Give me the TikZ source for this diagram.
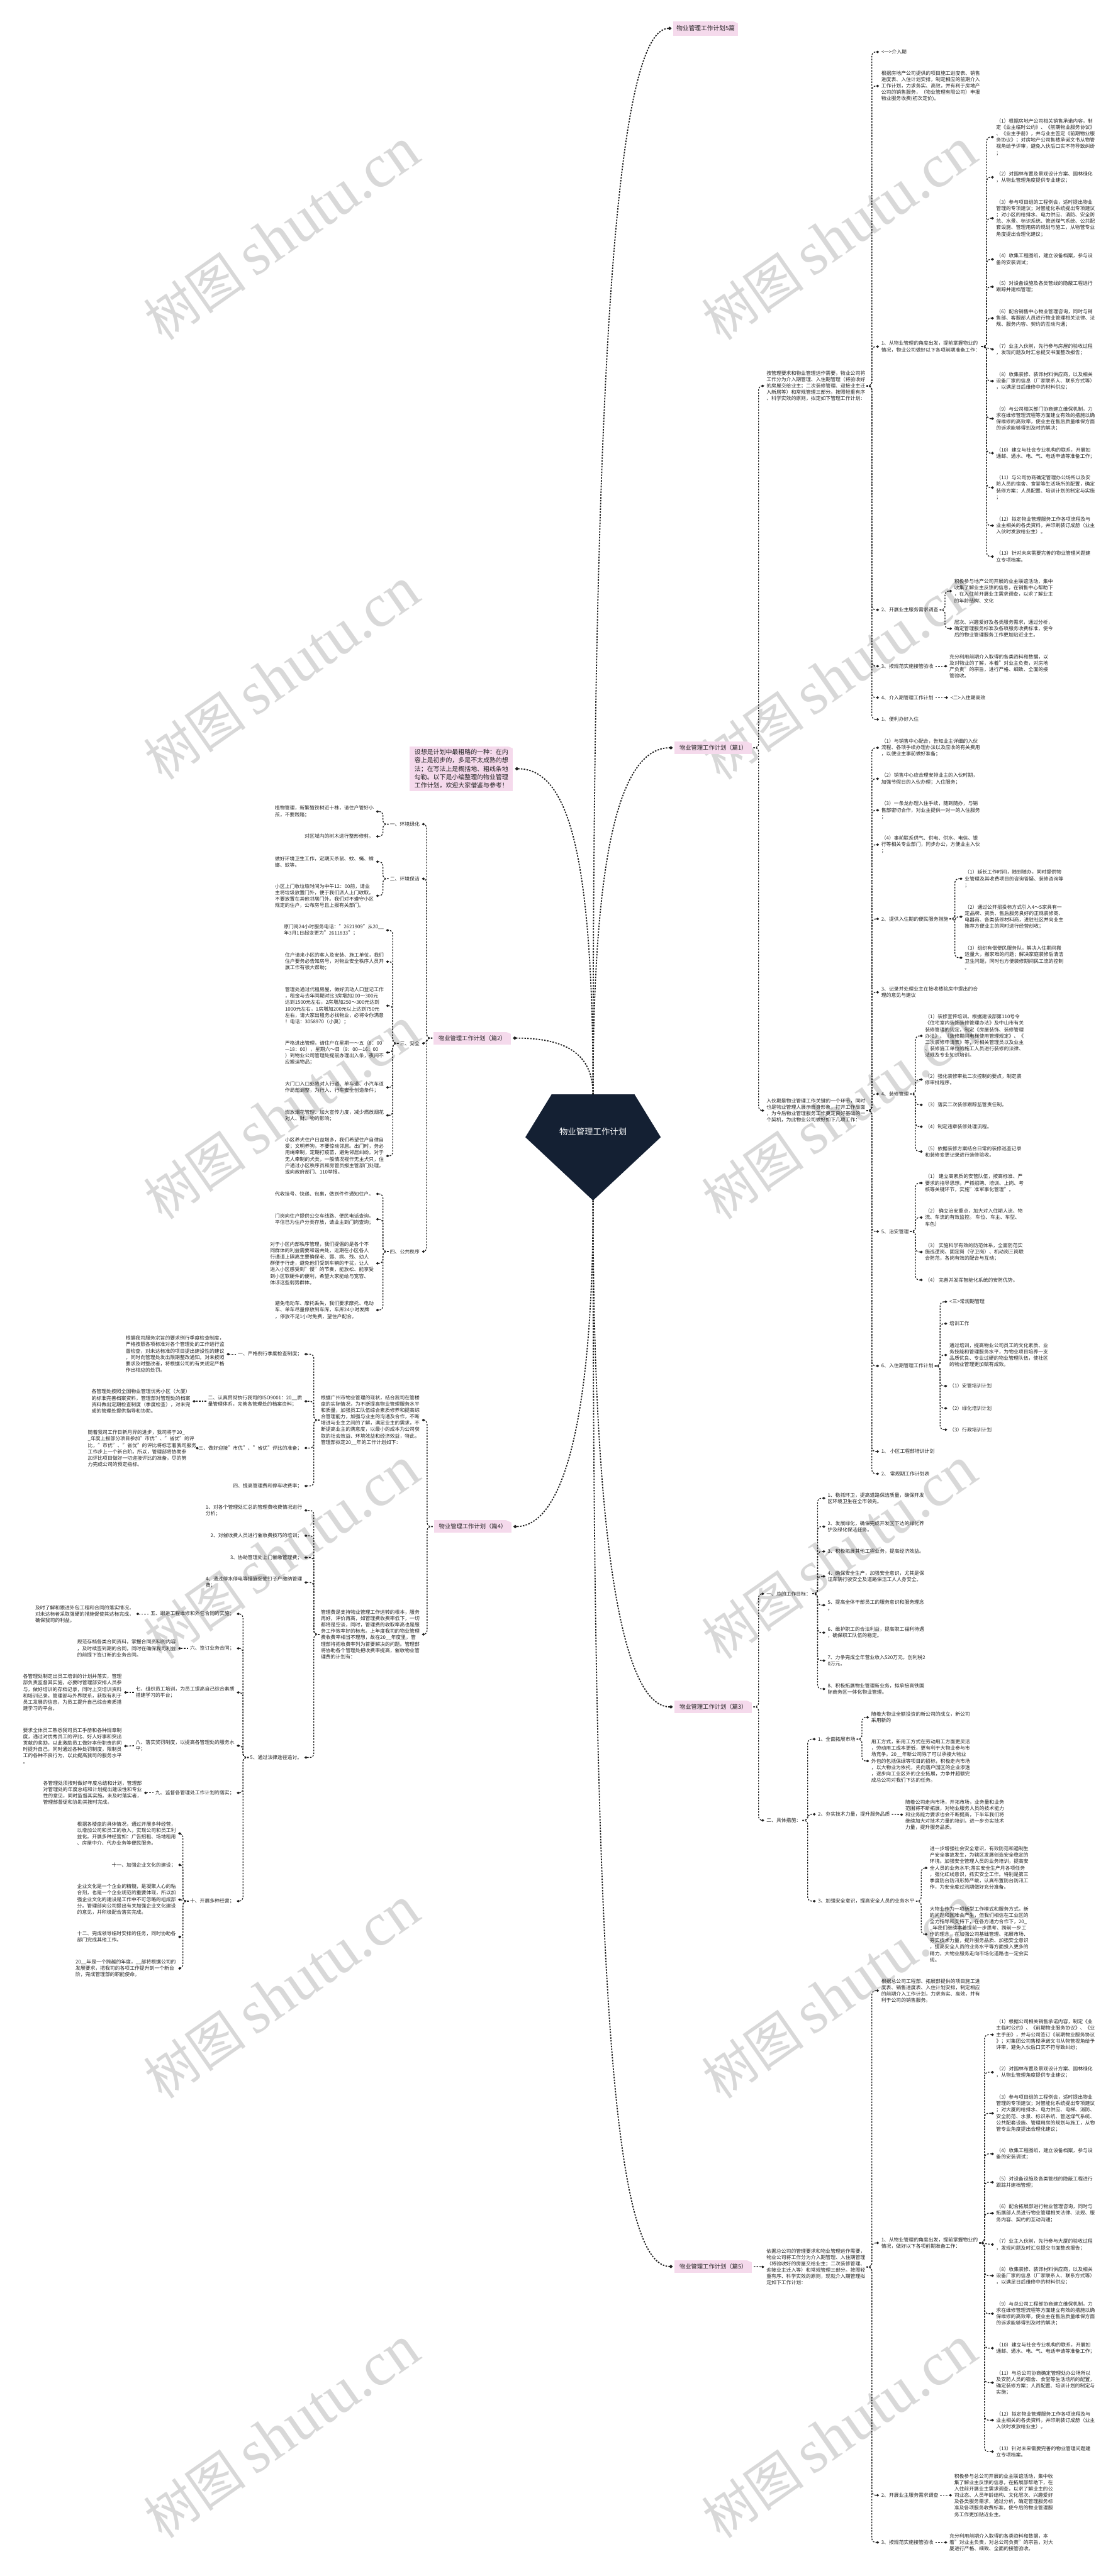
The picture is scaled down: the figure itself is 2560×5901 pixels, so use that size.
\documentclass[tikz,border=0pt]{standalone}
\usepackage{fontspec}
\setmainfont{Noto Sans CJK SC}
\newfontfamily\wmlat{Liberation Serif}
\usetikzlibrary{arrows.meta}
\definecolor{labpink}{RGB}{245,218,236}
\definecolor{navy}{RGB}{20,32,51}
\definecolor{wmgray}{RGB}{216,216,216}
\definecolor{ink}{RGB}{34,34,34}
\newcommand\ft{\fontsize{11.3}{14.6}\selectfont}
\newcommand\rcon[2]{\draw[conn] ([xshift=3pt]#1.east) -- ++(12,0) |- ([xshift=-5pt]#2.west);}
\newcommand\rstr[2]{\draw[conn] ([xshift=4pt]#1.east) -- ([xshift=-5pt]#2.west);}
\newcommand\lcon[2]{\draw[conn] ([xshift=-3pt]#1.west) -- ++(-13,0) |- ([xshift=5pt]#2.east);}
\newcommand\lstr[2]{\draw[conn] ([xshift=-4pt]#1.west) -- ([xshift=5pt]#2.east);}
\newcommand\wmtext{{\fontsize{118}{118}\selectfont 树图}\hspace{22pt}{\wmlat\fontsize{140}{140}\selectfont shutu.cn}}
\begin{document}
\begin{tikzpicture}[x=1pt,y=-1pt,
 rt/.style={font=\ft, align=left, inner sep=0pt, anchor=west, text=ink},
 lt/.style={font=\ft, align=left, inner sep=0pt, anchor=east, text=ink},
 lab/.style={fill=labpink, text=ink, font=\fontsize{13.4}{16}\selectfont, inner xsep=11pt, inner ysep=8pt},
 wm/.style={text=wmgray, rotate=35, inner sep=0pt, anchor=east},
 conn/.style={line width=1.9pt, dash pattern=on 3.5pt off 3pt, draw=black!88, rounded corners=9pt, -{Diamond[length=7pt,width=6pt]}},
 mainc/.style={line width=2.6pt, dash pattern=on 3.5pt off 3pt, draw=black!88, -{Diamond[length=9pt,width=8pt]}}]
\fill[white] (0,0) rectangle (2560,5901);
\useasboundingbox (0,0) rectangle (2560,5901);
% watermarks
\foreach \yy in {329,1336,2343,3350,4357,5364}{
 \node[wm] at (944,\yy) {\wmtext};
 \node[wm] at (2221,\yy) {\wmtext};
}
% center
\fill[navy] (1263,2507) -- (1453,2507) -- (1513,2605) -- (1358,2750) -- (1203,2605) -- cycle;
\node[text=white, font=\fontsize{19.3}{22}\selectfont, inner sep=0pt] (ctext) at (1358,2593) {物业管理工作计划};
\coordinate (ctop) at (1358,2507);
\coordinate (cbot) at (1358,2750);
% level-1 labels
\node[lab, anchor=west, font=\fontsize{14}{16}\selectfont, inner xsep=7pt, inner ysep=10pt] (top) at (1542,65) {物业管理工作计划5篇};
\node[lab, anchor=east] (p1) at (1722,1713) {物业管理工作计划（篇1）};
\node[lab, anchor=east] (p3) at (1722,3910) {物业管理工作计划（篇3）};
\node[lab, anchor=east] (p5) at (1722,5192) {物业管理工作计划（篇5）};
\node[lab, anchor=west] (p2) at (993,2378) {物业管理工作计划（篇2）};
\node[lab, anchor=west] (p4) at (994,3497) {物业管理工作计划（篇4）};
\node[fill=labpink, text=ink, font=\fontsize{14.3}{19.3}\selectfont, align=left, inner xsep=11pt, inner ysep=6pt, anchor=east] (intro) at (1175,1761) {设想是计划中最粗略的一种：在内\\容上是初步的，多是不太成熟的想\\法；在写法上是概括地、粗线条地\\勾勒。以下是小编整理的物业管理\\工作计划，欢迎大家借鉴与参考！};
\foreach \n in {top,p1,p2,p3,p4,p5,intro}{
 \fill[white] (\n.north east) -- ++(-12,0) -- ++(12,5) -- cycle;
}
% main connectors
\draw[mainc] (ctop) .. controls (1358,1000) and (1400,65) .. ([xshift=-4pt]top.west);
\draw[mainc] (ctop) .. controls (1358,1950) and (1420,1713) .. ([xshift=-4pt]p1.west);
\draw[mainc] (cbot) .. controls (1358,3500) and (1420,3910) .. ([xshift=-4pt]p3.west);
\draw[mainc] (cbot) .. controls (1358,4500) and (1400,5192) .. ([xshift=-4pt]p5.west);
\draw[mainc] (ctop) .. controls (1358,1950) and (1300,1761) .. ([xshift=4pt]intro.east);
\draw[mainc] (ctop) .. controls (1358,2410) and (1290,2378) .. ([xshift=4pt]p2.east);
\draw[mainc] (cbot) .. controls (1358,3250) and (1290,3497) .. ([xshift=4pt]p4.east);

% ================= 篇1 =================
\node[rt] (na) at (1755,884) {按管理要求和物业管理运作需要，物业公司将\\工作分为介入期管理、入住期管理（将验收好\\的房屋交给业主；二次装修管理、迎接业主迁\\入新居等）和常规管理三部分。按照轻重有序\\、科学实效的原则，拟定如下管理工作计划：};
\node[rt] (nb) at (1755,2544) {入伙期是物业管理工作关键的一个环节，同时\\也是物业管理人展示自身形象，打开工作局面\\，为今后物业管理服务工作奠定良好基础的一\\个契机，为此物业公司做好如下几项工作：};
\rcon{p1}{na} \rcon{p1}{nb}
\node[rt] (a1) at (2018,119) {<一>介入期};
\node[rt] (a2) at (2018,197) {根据房地产公司提供的项目施工进度表、销售\\进度表、入住计划安排，制定相应的前期介入\\工作计划，力求务实、高效，并有利于房地产\\公司的销售服务，（物业管理有限公司）申报\\物业服务收费(初次定价)。};
\node[rt] (a3) at (2018,794) {1、从物业管理的角度出发，提前掌握物业的\\情况，物业公司做好以下各项前期准备工作：};
\node[rt] (a4) at (2018,1397) {2、开展业主服务需求调查};
\node[rt] (a5) at (2018,1526) {3、按规范实施接管验收};
\node[rt] (a6) at (2018,1598) {4、介入期管理工作计划};
\node[rt] (a7) at (2018,1648) {1、便利办好入住};
\rcon{na}{a1} \rcon{na}{a2} \rcon{na}{a3} \rcon{na}{a4} \rcon{na}{a5} \rcon{na}{a6} \rcon{na}{a7}
\node[rt] (c1) at (2281,314) {（1）根据房地产公司相关销售承诺内容，制\\定《业主临时公约》、《前期物业服务协议》\\、《业主手册》，并与业主签定《前期物业服\\务协议》；对房地产公司售楼承诺文书从物管\\视角给予评审，避免入伙后口实不符导致纠纷\\；};
\node[rt] (c2) at (2281,406) {（2）对园林布置及景观设计方案、园林绿化\\，从物业管理角度提供专业建议；};
\node[rt] (c3) at (2281,500) {（3）参与项目组的工程例会，适时提出物业\\管理的专项建议；对智能化系统提出专项建议\\；对小区的给排水、电力供应、消防、安全防\\范、水景、标识系统、管送煤气系统、公共配\\套设施、管理用房的规划与施工，从物管专业\\角度提出合理化建议；};
\node[rt] (c4) at (2281,594) {（4）收集工程图纸，建立设备档案，参与设\\备的安装调试；};
\node[rt] (c5) at (2281,657) {（5）对设备设施及各类管线的隐蔽工程进行\\跟踪并建档管理；};
\node[rt] (c6) at (2281,729) {（6）配合销售中心物业管理咨询，同时与销\\售部、客服部人员进行物业管理相关法律、法\\规、服务内容、契约的互动沟通；};
\node[rt] (c7) at (2281,801) {（7）业主入伙前，先行参与房屋的验收过程\\，发现问题及时汇总提交书面整改报告；};
\node[rt] (c8) at (2281,873) {（8）收集装修、装饰材料供应商，以及相关\\设备厂家的信息（厂家联系人、联系方式等）\\，以满足日后维修中的材料供应；};
\node[rt] (c9) at (2281,959) {（9）与公司相关部门协商建立维保机制，力\\求在维修管理流程等方面建立有效的措施以确\\保维修的高效率，使业主在售后质量维保方面\\的诉求能够得到及时的解决；};
\node[rt] (c10) at (2281,1038) {（10）建立与社会专业机构的联系，开展如\\通邮、通水、电、气、电话申请等准备工作；};
\node[rt] (c11) at (2281,1117) {（11）与公司协商确定管理办公场所以及安\\防人员的宿舍、食堂等生活场所的配置，确定\\装修方案；人员配置、培训计划的制定与实施\\；};
\node[rt] (c12) at (2281,1204) {（12）拟定物业管理服务工作各项流程及与\\业主相关的各类资料，并印刷装订成册（业主\\入伙时发放给业主）。};
\node[rt] (c13) at (2281,1275) {（13）针对未来需要完善的物业管理问题建\\立专项档案。};
\rcon{a3}{c1} \rcon{a3}{c2} \rcon{a3}{c3} \rcon{a3}{c4} \rcon{a3}{c5} \rcon{a3}{c6} \rstr{a3}{c7}
\rcon{a3}{c8} \rcon{a3}{c9} \rcon{a3}{c10} \rcon{a3}{c11} \rcon{a3}{c12} \rcon{a3}{c13}
\node[rt] (a4a) at (2185,1354) {积极参与地产公司开展的业主联谊活动，集中\\收集了解业主反馈的信息，在销售中心帮助下\\，在入住前开展业主需求调查，以求了解业主\\的年龄结构、文化};
\node[rt] (a4b) at (2185,1440) {层次、兴趣爱好及各类服务需求，通过分析，\\确定管理服务标准及各项服务收费标准，使今\\后的物业管理服务工作更加贴近业主。};
\rcon{a4}{a4a} \rcon{a4}{a4b}
\node[rt] (a5c) at (2174,1526) {充分利用前期介入取得的各类资料和数据，以\\及对物业的了解，本着"对业主负责，对房地\\产负责"的宗旨，进行严格、细致、全面的接\\管验收。};
\rstr{a5}{a5c}
\node[rt] (a6c) at (2176,1598) {<二>入住期高效};
\rstr{a6}{a6c}
\node[rt] (b1) at (2018,1713) {（1）与销售中心配合，告知业主详细的入伙\\流程、各项手续办理办法以及应收的有关费用\\，以便业主事前做好准备；};
\node[rt] (b2) at (2018,1784) {（2）销售中心应合理安排业主的入伙时期，\\加强节假日的入伙办理；入住服务；};
\node[rt] (b3) at (2018,1856) {（3）一条龙办理入住手续，随到随办，与销\\售部密切合作，对业主提供一对一的入住服务\\；};
\node[rt] (b4) at (2018,1935) {（4）事前联系供气、供电、供水、电信、银\\行等相关专业部门，同步办公，方便业主入伙\\；};
\node[rt] (b5) at (2018,2105) {2、提供入住期的便民服务措施};
\node[rt] (b6) at (2018,2273) {3、记录并处理业主在接收楼验房中提出的合\\理的意见与建议};
\node[rt] (b7) at (2018,2506) {4、装修管理};
\node[rt] (b8) at (2018,2821) {5、治安管理};
\node[rt] (b9) at (2018,3129) {6、入住期管理工作计划};
\node[rt] (b10) at (2018,3325) {1、 小区工程部培训计划};
\node[rt] (b11) at (2018,3376) {2、 常规期工作计划表};
\rcon{nb}{b1} \rcon{nb}{b2} \rcon{nb}{b3} \rcon{nb}{b4} \rcon{nb}{b5} \rcon{nb}{b6}
\rcon{nb}{b7} \rcon{nb}{b8} \rcon{nb}{b9} \rcon{nb}{b10} \rcon{nb}{b11}
\node[rt] (b5a) at (2209,2013) {（1）延长工作时间，随到随办，同时提供物\\业管理及其收费项目的咨询答疑、装修咨询等\\；};
\node[rt] (b5b) at (2209,2100) {（2）通过公开招投标方式引入4～5家具有一\\定品牌、资质、售后服务良好的正规装修商、\\电器商、各类装修材料商，进驻社区并向业主\\推荐方便业主的同时进行经营创收；};
\node[rt] (b5c) at (2209,2194) {（3）组织有偿便民服务队，解决入住期间搬\\运量大，搬家难的问题；解决家庭装修后清洁\\卫生问题，同时也方便装修期间民工流的控制\\。};
\rcon{b5}{b5a} \rcon{b5}{b5b} \rcon{b5}{b5c}
\node[rt] (b7a) at (2118,2373) {（1）装修宣传培训。根据建设部第110号令\\《住宅室内装饰装修管理办法》及中山市有关\\装修管理的规定，制定《房屋装饰、装修管理\\办法》、《装修期间电梯使用管理规定》、《\\二次装修申请表》等，对相关管理员以及业主\\、装修施工单位的施工人员进行装修的法律、\\法规及专业知识培训。};
\node[rt] (b7b) at (2118,2473) {（2）强化装修审批二次控制的要点，制定装\\修审批程序。};
\node[rt] (b7c) at (2118,2531) {（3）落实二次装修跟踪监管责任制。};
\node[rt] (b7d) at (2118,2581) {（4）制定违章装修处理流程。};
\node[rt] (b7e) at (2118,2638) {（5）依据装修方案结合日常的装修巡查记录\\和装修变更记录进行装修验收。};
\rcon{b7}{b7a} \rcon{b7}{b7b} \rcon{b7}{b7c} \rcon{b7}{b7d} \rcon{b7}{b7e}
\node[rt] (b8a) at (2118,2710) {（1） 建立高素质的安管队伍，按高标准、严\\要求的指导思想，严抓招聘、培训、上岗、考\\核等关键环节，实施"准军事化管理"。};
\node[rt] (b8b) at (2118,2789) {（2） 确立治安重点，加大对入住期人流、物\\流、车流的有效监控。 车位、车主、车型、\\车色）};
\node[rt] (b8c) at (2118,2868) {（3） 实施科学有效的防范体系，全面防范实\\施巡逻岗、固定岗（守卫岗）、机动岗三岗联\\合防范，各岗有效的配合与互动；};
\node[rt] (b8d) at (2118,2932) {（4） 完善并发挥智能化系统的安防优势。};
\rcon{b8}{b8a} \rcon{b8}{b8b} \rcon{b8}{b8c} \rcon{b8}{b8d}
\node[rt] (b9a) at (2174,2982) {<三>常规期管理};
\node[rt] (b9b) at (2174,3032) {培训工作};
\node[rt] (b9c) at (2174,3104) {通过培训，提高物业公司员工的文化素质、业\\务技能和管理服务水平，为物业项目培养一支\\品质优良、专业过硬的物业管理队伍，使社区\\的物业管理更加赋有成效。};
\node[rt] (b9d) at (2174,3175) {（1）安管培训计划};
\node[rt] (b9e) at (2174,3226) {（2）绿化培训计划};
\node[rt] (b9f) at (2174,3275) {（3）行政培训计划};
\rcon{b9}{b9a} \rcon{b9}{b9b} \rcon{b9}{b9c} \rcon{b9}{b9d} \rcon{b9}{b9e} \rcon{b9}{b9f}

% ================= 篇3 =================
\node[rt] (g0) at (1755,3651) {一、总的工作目标：};
\node[rt] (h0) at (1755,4170) {二、具体措施：};
\rcon{p3}{g0} \rcon{p3}{h0}
\node[rt] (g1) at (1895,3432) {1、稳抓环卫，提高道路保洁质量，确保开发\\区环境卫生在全市领先。};
\node[rt] (g2) at (1895,3497) {2、发展绿化，确保完成开发区下达的绿化养\\护及绿化保洁任务。};
\node[rt] (g3) at (1895,3554) {3、积极拓展其他工程业务，提高经济效益。};
\node[rt] (g4) at (1895,3611) {4、确保安全生产，加强安全意识，尤其是保\\证车辆行驶安全及道路保洁工人人身安全。};
\node[rt] (g5) at (1895,3677) {5、提高全体干部员工的服务意识和服务理念\\。};
\node[rt] (g6) at (1895,3740) {6、维护职工的合法利益，提高职工福利待遇\\，确保职工队伍的稳定。};
\node[rt] (g7) at (1895,3804) {7、力争完成全年营业收入520万元，创利税2\\0万元。};
\node[rt] (g8) at (1895,3869) {8、积极拓展物业管理新业务，拟承接高铁国\\际商务区一体化物业管理。};
\rcon{g0}{g1} \rcon{g0}{g2} \rcon{g0}{g3} \rcon{g0}{g4} \rcon{g0}{g5} \rcon{g0}{g6} \rcon{g0}{g7} \rcon{g0}{g8}
\node[rt] (h1) at (1873,3984) {1、全面拓展市场};
\node[rt] (h2) at (1873,4156) {2、夯实技术力量，提升服务品质};
\node[rt] (h3) at (1873,4355) {3、加强安全意识，提高安全人员的业务水平};
\rcon{h0}{h1} \rcon{h0}{h2} \rcon{h0}{h3}
\node[rt] (h1a) at (1995,3934) {随着大物业全额投资的新公司的成立，新公司\\采用新的};
\node[rt] (h1b) at (1995,4034) {用工方式，新用工方式在劳动用工方面更灵活\\，劳动用工成本更低，更有利于大物业参与市\\场竞争。20\_\_年新公司除了可以承接大物业\\外包的包括保绿等项目的招标，积极走向市场\\，以大物业为依托，先向落户园区的企业渗透\\，逐步向工业区外的企业拓展，力争并超额完\\成总公司对我们下达的任务。};
\rcon{h1}{h1a} \rcon{h1}{h1b}
\node[rt] (h2a) at (2073,4157) {随着公司走向市场，开拓市场，业务量和业务\\范围将不断拓展，对物业服务人员的技术能力\\和业务能力要求也会不断提高，下半年我们将\\继续加大对技术力量的培训，进一步夯实技术\\力量，提升服务品质。};
\rstr{h2}{h2a}
\node[rt] (h3a) at (2129,4279) {进一步增强社会安全意识，有效防范和遏制生\\产安全事故发生，为辖区发展创造安全稳定的\\环境。加强安全管理人员的业务培训，提高安\\全人员的业务水平;落实安全生产月各项任务\\，强化红线意识，抓实安全工作。特别是第三\\季度防台防汛形势严峻，认真布置防台防汛工\\作，为安全度过汛期做好充分准备。};
\node[rt] (h3b) at (2129,4431) {大物业作为一项新型工作模式和服务方式，新\\的问题和困难会产生，但我们相信在工业区的\\全力指导和支持下，在各方通力合作下，20\_\\\_年我们继续本着提前一步思考、跨前一步工\\作的理念，在加强公司基础管理、拓展市场、\\夯实技术力量，提升服务品质、加强安全意识\\，提高安全人员的业务水平等方面投入更多的\\精力，大物业服务走向市场化道路也一定会实\\现。};
\rcon{h3}{h3a} \rcon{h3}{h3b}

% ================= 篇5 =================
\node[rt] (nd) at (1755,5193) {依据总公司的管理要求和物业管理运作需要，\\物业公司将工作分为介入期管理、入住期管理\\（将验收好的房屋交给业主；二次装修管理、\\迎接业主迁入等）和常规管理三部分。按照轻\\重有序、科学实效的原则，现就介入期管理拟\\定如下工作计划：};
\rstr{p5}{nd}
\node[rt] (d1) at (2018,4560) {根据总公司工程部、拓展部提供的项目施工进\\度表、销售进度表、入住计划安排，制定相应\\的前期介入工作计划，力求务实、高效，并有\\利于公司的销售服务。};
\node[rt] (d2) at (2018,5138) {1、从物业管理的角度出发，提前掌握物业的\\情况，做好以下各项前期准备工作：};
\node[rt] (d3) at (2018,5716) {2、开展业主服务需求调查};
\node[rt] (d4) at (2018,5824) {3、按规范实施接管验收};
\rcon{nd}{d1} \rcon{nd}{d2} \rcon{nd}{d3} \rcon{nd}{d4}
\node[rt] (e1) at (2281,4661) {（1）根据公司相关销售承诺内容，制定《业\\主临时公约》、《前期物业服务协议》、《业\\主手册》，并与公司签订《前期物业服务协议\\》；对集团公司售楼承诺文书从物管视角给予\\评审，避免入伙后口实不符导致纠纷；};
\node[rt] (e2) at (2281,4747) {（2）对园林布置及景观设计方案、园林绿化\\，从物业管理角度提供专业建议；};
\node[rt] (e3) at (2281,4841) {（3）参与项目组的工程例会，适时提出物业\\管理的专项建议；对智能化系统提出专项建议\\；对大厦的给排水、电力供应、电梯、消防、\\安全防范、水景、标识系统、管送煤气系统、\\公共配套设施、管理用房的规划与施工，从物\\管专业角度提出合理化建议；};
\node[rt] (e4) at (2281,4934) {（4）收集工程图纸，建立设备档案，参与设\\备的安装调试；};
\node[rt] (e5) at (2281,4999) {（5）对设备设施及各类管线的隐蔽工程进行\\跟踪并建档管理；};
\node[rt] (e6) at (2281,5070) {（6）配合拓展部进行物业管理咨询，同时与\\拓展部人员进行物业管理相关法律、法规、服\\务内容、契约的互动沟通；};
\node[rt] (e7) at (2281,5142) {（7）业主入伙前，先行参与大厦的验收过程\\，发现问题及时汇总提交书面整改报告；};
\node[rt] (e8) at (2281,5213) {（8）收集装修、装饰材料供应商，以及相关\\设备厂家的信息（厂家联系人、联系方式等）\\，以满足日后维修中的材料供应；};
\node[rt] (e9) at (2281,5300) {（9）与总公司工程部协商建立维保机制，力\\求在维修管理流程等方面建立有效的措施以确\\保维修的高效率，使业主在售后质量维保方面\\的诉求能够得到及时的解决；};
\node[rt] (e10) at (2281,5379) {（10）建立与社会专业机构的联系，开展如\\通邮、通水、电、气、电话申请等准备工作；};
\node[rt] (e11) at (2281,5458) {（11）与总公司协商确定管理处办公场所以\\及安防人员的宿舍、食堂等生活场所的配置，\\确定装修方案；人员配置、培训计划的制定与\\实施；};
\node[rt] (e12) at (2281,5544) {（12）拟定物业管理服务工作各项流程及与\\业主相关的各类资料，并印刷装订成册（业主\\入伙时发放给业主）。};
\node[rt] (e13) at (2281,5616) {（13）针对未来需要完善的物业管理问题建\\立专项档案。};
\rcon{d2}{e1} \rcon{d2}{e2} \rcon{d2}{e3} \rcon{d2}{e4} \rcon{d2}{e5} \rcon{d2}{e6} \rstr{d2}{e7}
\rcon{d2}{e8} \rcon{d2}{e9} \rcon{d2}{e10} \rcon{d2}{e11} \rcon{d2}{e12} \rcon{d2}{e13}
\node[rt] (d3c) at (2185,5716) {积极参与总公司开展的业主联谊活动，集中收\\集了解业主反馈的信息，在拓展部帮助下，在\\入住前开展业主需求调查，以求了解业主的公\\司业态、人员年龄结构、文化层次、兴趣爱好\\及各类服务需求，通过分析，确定管理服务标\\准及各项服务收费标准，使今后的物业管理服\\务工作更加贴近业主。};
\rstr{d3}{d3c}
\node[rt] (d4c) at (2174,5824) {充分利用前期介入取得的各类资料和数据，本\\着"对业主负责，对总公司负责"的宗旨，对大\\厦进行严格、细致、全面的接管验收。};
\rstr{d4}{d4c}

% ================= 篇2 =================
\node[lt] (E1) at (961,1888) {一、环境绿化};
\node[lt] (E2) at (961,2013) {二、环境保洁};
\node[lt] (E3) at (961,2390) {三、安全};
\node[lt] (E4) at (961,2867) {四、公共秩序};
\lcon{p2}{E1} \lcon{p2}{E2} \lcon{p2}{E3} \lcon{p2}{E4}
\node[lt] (E1a) at (856,1859) {植物管理，新繁殖铁树近十株，请住户管好小\\孩，不要践踏；};
\node[lt] (E1b) at (856,1916) {对区域内的树木进行整形修剪。};
\lcon{E1}{E1a} \lcon{E1}{E1b}
\node[lt] (E2a) at (856,1974) {做好环境卫生工作，定期灭杀鼠、蚊、蝇、蟑\\螂、蚊等。};
\node[lt] (E2b) at (856,2052) {小区上门收垃圾时间为中午12：00前，请业\\主将垃圾放置门外，便于我们派人上门收取，\\不要放置在其他邻居门外。我们对不遵守小区\\规定的住户，公布房号且上报有关部门。};
\lcon{E2}{E2a} \lcon{E2}{E2b}
\node[lt] (E3a) at (879,2131) {原门岗24小时服务电话："2621909"从20\_\_\\年3月1日起变更为"2611833"；};
\node[lt] (E3b) at (879,2203) {住户请来小区的客人及安装、施工单位，我们\\住户要务必告知房号，对物业安全秩序人员开\\展工作有很大帮助；};
\node[lt] (E3c) at (879,2304) {管理处通过代租房屋，做好流动人口登记工作\\，租金与去年同期对比3房增加200～300元\\达到1500元左右，2房增加250～300元达到\\1000元左右，1房增加200元以上达到750元\\左右，请大家出租务必找物业，必将令你满意\\！电话：3058970（小莫）；};
\node[lt] (E3d) at (879,2411) {严格进出管理，请住户在星期一～五（8：00\\—18：00），星期六～日（9：00—16：00\\）到物业公司管理处提前办理出入条，夜间不\\应搬运物品；};
\node[lt] (E3e) at (879,2491) {大门口入口处将对人行道、单车道、小汽车道\\作局部调整，为行人、行车安全创造条件；};
\node[lt] (E3f) at (879,2555) {燃放烟花管理：加大宣传力度，减少燃放烟花\\对人、财、物的影响；};
\node[lt] (E3g) at (879,2648) {小区养犬住户日益增多，我们希望住户自律自\\爱；文明养狗，不要惊动邻居。出门时，务必\\用绳牵制，定期打疫苗，避免邻居纠纷。对于\\无人牵制的犬类，一般情况视作无主犬只，住\\户通过小区秩序员和房管员报主管部门处理，\\或向政府部门、110举报。};
\lcon{E3}{E3a} \lcon{E3}{E3b} \lcon{E3}{E3c} \lcon{E3}{E3d} \lcon{E3}{E3e} \lcon{E3}{E3f} \lcon{E3}{E3g}
\node[lt] (E4a) at (856,2735) {代收挂号、快递、包裹，做到件件通知住户。};
\node[lt] (E4b) at (856,2793) {门岗向住户提供公交车线路、便民电话查询，\\平信已为住户分类存放，请业主到门岗查询；};
\node[lt] (E4c) at (856,2894) {对于小区内部秩序管理，我们提倡的是各个不\\同群体的利益需要和谐共处，近期在小区各人\\行通道上隔离主要确保老、弱、病、残、幼人\\群便于行走，避免他们受到车辆的干扰，让人\\进入小区感受到"慢"的节奏，能放松、能享受\\到小区软硬件的便利，希望大家能给与宽容、\\体谅这些弱势群体。};
\node[lt] (E4d) at (856,3001) {避免电动车、摩托丢失，我们要求摩托、电动\\车、单车尽量停放到车库，车库24小时发牌\\，停放不足1小时免费，望住户配合。};
\lcon{E4}{E4a} \lcon{E4}{E4b} \lcon{E4}{E4c} \lcon{E4}{E4d}

% ================= 篇4 =================
\node[lt] (F1) at (961,3253) {根据广州市物业管理的现状，结合我司在管楼\\盘的实际情况，为不断提高物业管理服务水平\\和质量，加强员工队伍综合素质修养和提高综\\合管理能力，加强与业主的沟通及合作，不断\\增进与业主之间的了解，满足业主的需求，不\\断提高业主的满意度，以最小的成本为公司获\\取的社会效益、环境效益和经济效益，特此，\\管理部拟定20\_\_年的工作计划如下：};
\node[lt] (F2) at (961,3744) {管理费是支持物业管理工作运转的根本，服务\\再好，评价再高，如管理费收费率低下，一切\\都将是空谈，同时，管理费的收取率高也是服\\务工作效率好的标志。上年度我司的物业管理\\费收费率相当不理想，故在20\_\_年度里，管\\理部将把收费率列为首要解决的问题。管理部\\将协助各个管理处把收费率提高，催收物业管\\理费的计划有：};
\lcon{p4}{F1} \lcon{p4}{F2}
\node[lt] (F1a) at (692,3102) {一、严格例行季度检查制度；};
\node[lt] (F1b) at (692,3210) {二、认真贯彻执行我司的ISO9001：20\_\_质\\量管理体系，完善各管理处的档案资料；};
\node[lt] (F1c) at (692,3317) {三、做好迎接"市优"、"省优"评比的准备；};
\node[lt] (F1d) at (692,3404) {四、提高管理费和停车收费率；};
\lcon{F1}{F1a} \lcon{F1}{F1b} \lcon{F1}{F1c} \lcon{F1}{F1d}
\node[lt] (F1ac) at (514,3102) {根据我司服务宗旨的要求例行季度检查制度，\\严格按照各项标准对各个管理处的工作进行监\\督检查，对未达标准的项目提出建设性的建议\\，同时向管理处发出限期整改通知。对未按照\\要求及时整改者，将根据公司的有关规定严格\\作出相应的处罚。};
\node[lt] (F1bc) at (436,3210) {各管理处按照全国物业管理优秀小区（大厦）\\的标准完善档案资料，管理部对管理处的档案\\资料做出定期检查制度（季度检查），对未完\\成的管理处提供指导和协助。};
\node[lt] (F1cc) at (450,3318) {随着我司工作日新月异的进步，我司将于20\_\\\_年度上报部分项目参加"市优"、"省优"的评\\比，"市优"、"省优"的评比将标志着我司服务\\工作步上一个新台阶。所以，管理部将协助参\\加评比项目做好一切迎接评比的准备，尽的努\\力完成公司的预定指标。};
\lstr{F1a}{F1ac} \lstr{F1b}{F1bc} \lstr{F1c}{F1cc}
\node[lt] (F2a) at (692,3460) {1、对各个管理处汇总的管理费收费情况进行\\分析；};
\node[lt] (F2b) at (692,3518) {2、对催收费人员进行催收费技巧的培训；};
\node[lt] (F2c) at (692,3568) {3、协助管理处上门催缴管理费；};
\node[lt] (F2d) at (692,3625) {4、通过停水停电等措施促使钉子户缴纳管理\\费；};
\node[lt] (F2e) at (692,4026) {5、通过法律途径追讨。};
\lcon{F2}{F2a} \lcon{F2}{F2b} \lcon{F2}{F2c} \lcon{F2}{F2d} \lcon{F2}{F2e}
\node[lt] (G5) at (537,3697) {五、跟进工程维修和外包合同的实施；};
\node[lt] (G6) at (537,3776) {六、签订业务合同；};
\node[lt] (G7) at (537,3877) {七、组织员工培训，为员工提高自己综合素质\\搭建学习的平台；};
\node[lt] (G8) at (537,3999) {八、落实奖罚制度，以提高各管理处的服务水\\平；};
\node[lt] (G9) at (537,4107) {九、监督各管理处工作计划的落实；};
\node[lt] (G10) at (537,4355) {十、开展多种经营；};
\lcon{F2e}{G5} \lcon{F2e}{G6} \lcon{F2e}{G7} \lcon{F2e}{G8} \lcon{F2e}{G9} \lcon{F2e}{G10}
\node[lt] (G5c) at (307,3697) {及时了解和跟进外包工程和合同的落实情况，\\对未达标者采取强硬的措施促使其达标完成，\\确保我司的利益。};
\node[lt] (G6c) at (403,3776) {规范存档各类合同资料，掌握合同资料的内容\\，及时续签到期的合同，同时在确保我司利益\\的前提下签订新的业务合同。};
\node[lt] (G7c) at (279,3877) {各管理处制定出员工培训的计划并落实，管理\\部负责监督其实施，必要时管理部安排人员参\\与，做好培训的存档记录，同时上交培训资料\\和培训记录。管理部与外界联系，获取有利于\\员工发展的信息，为员工提升自己综合素质搭\\建学习的平台。};
\node[lt] (G8c) at (279,4000) {要求全体员工熟悉我司员工手册和各种规章制\\度，通过对优秀员工的评比、好人好事和突出\\贡献的奖励，以此激励员工做好本份职责的同\\时提升自己，同时通过各种处罚制度，限制员\\工的各种不良行为，以此提高我司的服务水平\\。};
\node[lt] (G9c) at (325,4107) {各管理处须按时做好年度总结和计划，管理部\\对管理处的年度总结和计划提出建设性和专业\\性的意见，同时监督其实施。未及时落实者，\\管理部督促和协助其按时完成。};
\lstr{G5}{G5c} \lstr{G6}{G6c} \lstr{G7}{G7c} \lstr{G8}{G8c} \lstr{G9}{G9c}
\node[lt] (G10a) at (403,4200) {根据各楼盘的具体情况，通过开展多种经营，\\以增加公司和员工的收入，实现公司和员工利\\益化。开展多种经营如：广告招租、场地租用\\、房屋中介、代办业务等便民服务。};
\node[lt] (G10b) at (403,4272) {十一、加强企业文化的建设；};
\node[lt] (G10c) at (403,4351) {企业文化是一个企业的精髓，是凝聚人心的粘\\合剂，也是一个企业规范的重要体现，所以加\\强企业文化的建设是工作中不可忽略的组成部\\分。管理部向公司提出有关加强企业文化建设\\的意见，并积极配合落实完成。};
\node[lt] (G10d) at (403,4437) {十二、完成领导临时安排的任务，同时协助各\\部门完成其他工作。};
\node[lt] (G10e) at (403,4509) {20\_\_年是一个跨越的年度，\_\_部将根据公司的\\发展要求，把我司的各项工作提升到一个新台\\阶，完成管理部的职能使命。};
\lcon{G10}{G10a} \lcon{G10}{G10b} \lstr{G10}{G10c} \lcon{G10}{G10d} \lcon{G10}{G10e}
\end{tikzpicture}
\end{document}
